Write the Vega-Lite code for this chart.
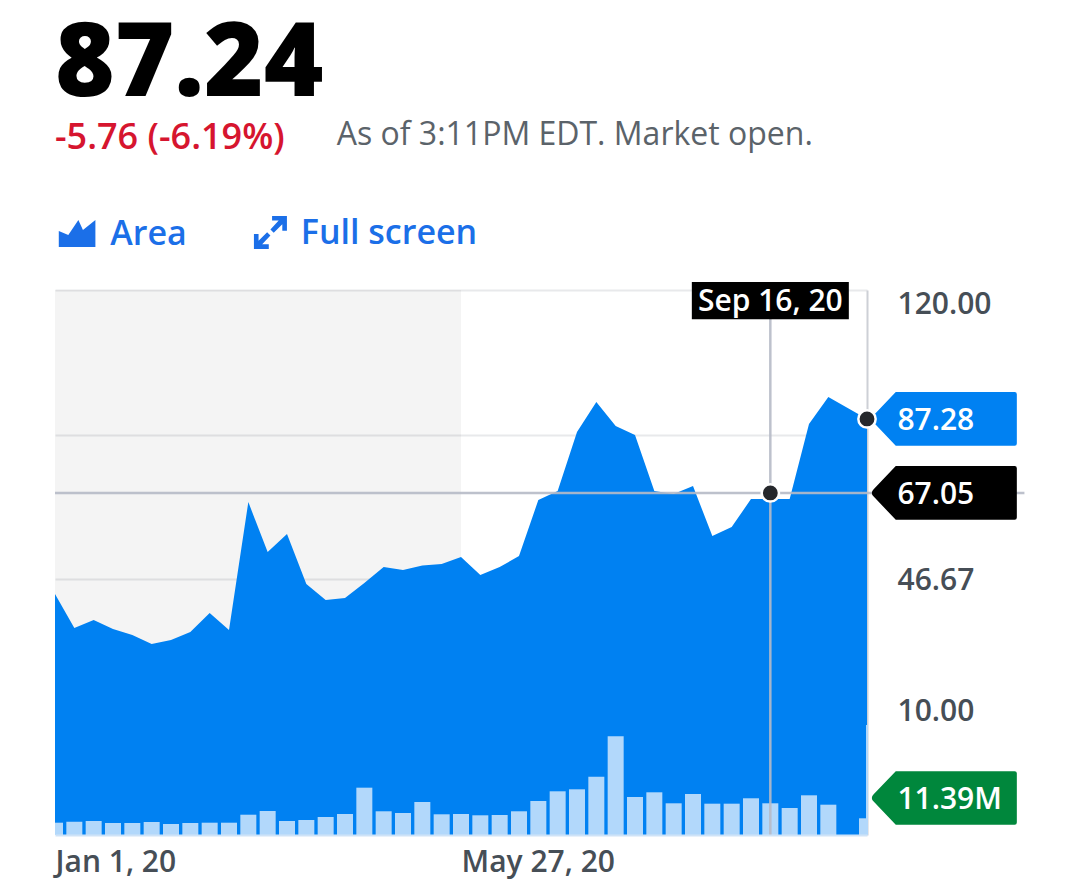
{
  "$schema": "https://vega.github.io/schema/vega-lite/v6.json",
  "width": 812,
  "height": 545,
  "autosize": {"type": "none"},
  "padding": {"left": 55, "top": 290, "right": 199, "bottom": 60},
  "background": "#ffffff",
  "config": {"font": "Open Sans", "view": {"stroke": null}},
  "title": {
    "text": "87.24",
    "subtitle": "-5.76 (-6.19%)",
    "anchor": "start",
    "frame": "group",
    "font": "Open Sans",
    "fontSize": 102,
    "fontWeight": 800,
    "color": "#000000",
    "subtitleFont": "Open Sans",
    "subtitleFontSize": 36,
    "subtitleFontWeight": 600,
    "subtitleColor": "#d6152f",
    "subtitlePadding": 4,
    "offset": -38
  },
  "datasets": {
    "weekly": [
      {"date": "2020-01-01", "price": 42.84, "volume": 4.42},
      {"date": "2020-01-08", "price": 34.21, "volume": 4.78},
      {"date": "2020-01-15", "price": 36.24, "volume": 5.03},
      {"date": "2020-01-22", "price": 33.96, "volume": 4.31},
      {"date": "2020-01-29", "price": 32.44, "volume": 4.31},
      {"date": "2020-02-05", "price": 30.15, "volume": 4.67},
      {"date": "2020-02-12", "price": 31.17, "volume": 3.95},
      {"date": "2020-02-19", "price": 33.2, "volume": 4.31},
      {"date": "2020-02-26", "price": 38.02, "volume": 4.42},
      {"date": "2020-03-04", "price": 33.71, "volume": 4.42},
      {"date": "2020-03-11", "price": 66.19, "volume": 7.29},
      {"date": "2020-03-18", "price": 53.5, "volume": 8.62},
      {"date": "2020-03-25", "price": 58.07, "volume": 5.03},
      {"date": "2020-04-01", "price": 45.38, "volume": 5.39},
      {"date": "2020-04-08", "price": 41.32, "volume": 6.47},
      {"date": "2020-04-15", "price": 41.83, "volume": 7.55},
      {"date": "2020-04-22", "price": 45.63, "volume": 17.0},
      {"date": "2020-04-29", "price": 49.7, "volume": 8.52},
      {"date": "2020-05-06", "price": 48.93, "volume": 7.9},
      {"date": "2020-05-13", "price": 50.08, "volume": 11.86},
      {"date": "2020-05-20", "price": 50.46, "volume": 7.44},
      {"date": "2020-05-27", "price": 52.23, "volume": 7.55},
      {"date": "2020-06-03", "price": 47.66, "volume": 7.08},
      {"date": "2020-06-10", "price": 49.7, "volume": 7.19},
      {"date": "2020-06-17", "price": 52.49, "volume": 8.52},
      {"date": "2020-06-24", "price": 66.7, "volume": 12.22},
      {"date": "2020-07-01", "price": 68.98, "volume": 15.7},
      {"date": "2020-07-08", "price": 83.96, "volume": 16.42},
      {"date": "2020-07-15", "price": 91.57, "volume": 20.95},
      {"date": "2020-07-22", "price": 85.48, "volume": 35.46},
      {"date": "2020-07-29", "price": 83.2, "volume": 13.65},
      {"date": "2020-08-05", "price": 68.98, "volume": 15.34},
      {"date": "2020-08-12", "price": 68.22, "volume": 11.39},
      {"date": "2020-08-19", "price": 70.25, "volume": 14.73},
      {"date": "2020-08-26", "price": 57.56, "volume": 11.25},
      {"date": "2020-09-02", "price": 59.85, "volume": 11.25},
      {"date": "2020-09-09", "price": 66.95, "volume": 13.19},
      {"date": "2020-09-16", "price": 66.95, "volume": 11.39},
      {"date": "2020-09-23", "price": 66.95, "volume": 9.7},
      {"date": "2020-09-30", "price": 85.99, "volume": 14.26},
      {"date": "2020-10-07", "price": 92.84, "volume": 10.89},
      {"date": "2020-10-14", "price": 90.05, "volume": 0},
      {"date": "2020-10-21", "price": 87.28, "volume": 6.0}
    ]
  },
  "encoding": {
    "x": {
      "field": "date",
      "type": "temporal",
      "title": null,
      "scale": {
        "type": "utc",
        "padding": 0,
        "domain": [
          {"year": 2020, "month": 1, "date": 1, "utc": true},
          {"year": 2020, "month": 10, "date": 21, "utc": true}
        ]
      },
      "axis": {
        "values": [1577836800000, 1590537600000],
        "labelExpr": "utcFormat(datum.value, '%b %-d, %y')",
        "labelAlign": "left",
        "labelFontSize": 30,
        "labelFontWeight": 600,
        "labelColor": "#464e56",
        "labelPadding": 12,
        "labelFlush": false,
        "labelOverlap": false,
        "grid": false,
        "ticks": false,
        "domainColor": "#cfe3f7",
        "domainWidth": 2,
        "zindex": 1
      }
    }
  },
  "layer": [
    {
      "encoding": {
        "y": {
          "field": "price",
          "type": "quantitative",
          "title": null,
          "scale": {"domain": [-18.3, 120], "zero": false, "nice": false},
          "axis": {
            "orient": "right",
            "values": [120, 83.33, 46.67, 10],
            "labelExpr": "datum.value == 83.33 ? '' : format(datum.value, '.2f')",
            "labelAlign": "left",
            "labelPadding": 30,
            "labelFontSize": 30,
            "labelFontWeight": 600,
            "labelColor": "#464e56",
            "labelOverlap": false,
            "labelBound": false,
            "labelOffset": {
              "condition": [
                {"test": "datum.value == 120", "value": 14},
                {"test": "datum.value == 10", "value": -12}
              ],
              "value": 2
            },
            "ticks": false,
            "grid": true,
            "gridColor": "#e8e9eb",
            "gridWidth": 2,
            "domainColor": "#cdd0d6",
            "domainWidth": 2
          }
        }
      },
      "layer": [
        {
          "data": {"values": [{"date": "2020-01-01", "end": "2020-05-27"}]},
          "mark": {"type": "rect", "color": "#000000", "opacity": 0.045},
          "encoding": {
            "x": {"field": "date", "type": "temporal"},
            "x2": {"field": "end"},
            "y": null
          }
        },
        {
          "data": {"name": "weekly"},
          "mark": {"type": "area", "color": "#0081f2", "opacity": 1},
          "encoding": {"y2": {"datum": -18.3}}
        }
      ]
    },
    {
      "data": {"name": "weekly"},
      "encoding": {
        "y": {
          "field": "volume",
          "type": "quantitative",
          "title": null,
          "axis": null,
          "scale": {"domain": [0, 195.8], "nice": false}
        }
      },
      "layer": [
        {"mark": {"type": "bar", "width": 16, "color": "#b2d8fb", "clip": true}},
        {
          "data": {"values": [{"date": "2020-10-21", "volume": 39.5}]},
          "mark": {"type": "rule", "color": "#b2d8fb", "strokeWidth": 2},
          "encoding": {"y2": {"datum": 0}}
        }
      ]
    },
    {
      "encoding": {
        "y": {
          "field": "price",
          "type": "quantitative",
          "title": null,
          "axis": null,
          "scale": {"domain": [-18.3, 120], "zero": false, "nice": false}
        },
        "text": {"field": "label"}
      },
      "layer": [
        {
          "data": {"values": [{"date": "2020-09-16", "price": 120, "low": -18.3}]},
          "mark": {"type": "rule", "color": "#b6bac6", "strokeWidth": 2.5, "opacity": 0.9},
          "encoding": {"y2": {"field": "low"}, "text": null}
        },
        {
          "data": {"values": [{"date": "2020-01-01", "end": "2020-12-17", "price": 68.5}]},
          "mark": {"type": "rule", "color": "#b6bac6", "strokeWidth": 2.5, "opacity": 0.9},
          "encoding": {"x2": {"field": "end"}, "text": null}
        },
        {
          "data": {"values": [{"date": "2020-11-18", "price": 87.28}]},
          "mark": {"type": "point", "filled": true, "opacity": 1, "color": "#0081f2", "size": 21025, "shape": "M-1,0 Q-1,-0.03 -0.975,-0.05 L-0.67,-0.37 L0.97,-0.37 Q1,-0.37 1,-0.34 L1,0.34 Q1,0.37 0.97,0.37 L-0.67,0.37 L-0.975,0.05 Q-1,0.03 -1,0 Z"},
          "encoding": {"text": null}
        },
        {
          "data": {"values": [{"date": "2020-11-18", "price": 68.5}]},
          "mark": {"type": "point", "filled": true, "opacity": 1, "color": "#000000", "size": 21025, "shape": "M-1,0 Q-1,-0.03 -0.975,-0.05 L-0.67,-0.37 L0.97,-0.37 Q1,-0.37 1,-0.34 L1,0.34 Q1,0.37 0.97,0.37 L-0.67,0.37 L-0.975,0.05 Q-1,0.03 -1,0 Z"},
          "encoding": {"text": null}
        },
        {
          "data": {"values": [{"date": "2020-11-18", "price": -8.9}]},
          "mark": {"type": "point", "filled": true, "opacity": 1, "color": "#00873c", "size": 21025, "shape": "M-1,0 Q-1,-0.03 -0.975,-0.05 L-0.67,-0.37 L0.97,-0.37 Q1,-0.37 1,-0.34 L1,0.34 Q1,0.37 0.97,0.37 L-0.67,0.37 L-0.975,0.05 Q-1,0.03 -1,0 Z"},
          "encoding": {"text": null}
        },
        {
          "data": {"values": [{"date": "2020-09-16", "price": 117.3}]},
          "mark": {"type": "point", "filled": true, "opacity": 1, "color": "#000000", "size": 24649, "shape": "M-1,-0.236 L1,-0.236 L1,0.236 L-1,0.236 Z"},
          "encoding": {"text": null}
        },
        {
          "data": {"values": [{"date": "2020-09-16", "price": 68.5}, {"date": "2020-10-21", "price": 87.28}]},
          "mark": {"type": "circle", "color": "#26282c", "size": 300, "opacity": 1, "stroke": "#ffffff", "strokeWidth": 2.5},
          "encoding": {"text": null}
        },
        {
          "data": {"values": [{"date": "2020-09-16", "price": 117.3, "label": "Sep 16, 20"}]},
          "mark": {"type": "text", "align": "center", "baseline": "middle", "dy": 1, "color": "#ffffff", "fontSize": 30, "fontWeight": 600}
        },
        {
          "data": {"values": [
            {"date": "2020-11-01", "price": 87.28, "label": "87.28"},
            {"date": "2020-11-01", "price": 68.5, "label": "67.05"},
            {"date": "2020-11-01", "price": -8.9, "label": "11.39M"}
          ]},
          "mark": {"type": "text", "align": "left", "baseline": "middle", "dy": 2, "color": "#ffffff", "fontSize": 30, "fontWeight": 600}
        },
        {
          "data": {"values": [{"date": "2020-04-12", "price": 159.6, "label": "As of 3:11PM EDT. Market open."}]},
          "mark": {"type": "text", "align": "left", "baseline": "middle", "dy": 1, "color": "#5b636a", "fontSize": 32}
        },
        {
          "data": {"values": [
            {"date": "2020-01-21", "price": 134.2, "label": "Area"},
            {"date": "2020-03-30", "price": 134.5, "label": "Full screen"}
          ]},
          "mark": {"type": "text", "align": "left", "baseline": "middle", "dy": 1, "color": "#1b6fe8", "fontSize": 34, "fontWeight": 600}
        },
        {
          "data": {"values": [{"date": "2020-01-09", "price": 134.3}]},
          "mark": {"type": "point", "filled": true, "opacity": 1, "color": "#1b6fe8", "size": 1340, "shape": "M-1,0.73 L-1,-0.15 L-0.48,0.07 L0.07,-0.75 L0.32,-0.2 L1,-0.75 L1,0.73 Z"},
          "encoding": {"text": null}
        },
        {
          "data": {"values": [{"date": "2020-03-19", "price": 134.6}]},
          "mark": {"type": "point", "filled": true, "opacity": 1, "color": "#1b6fe8", "size": 1089, "shape": "M0.1,-1 L1,-1 L1,-0.1 L0.72,-0.1 L0.72,-0.5 L0.2,0.02 L0,-0.18 L0.5,-0.72 L0.1,-0.72 Z M-0.1,1 L-1,1 L-1,0.1 L-0.72,0.1 L-0.72,0.5 L-0.2,-0.02 L0,0.18 L-0.5,0.72 L-0.1,0.72 Z"},
          "encoding": {"text": null}
        }
      ]
    }
  ],
  "resolve": {"scale": {"y": "independent"}, "axis": {"y": "independent"}}
}
